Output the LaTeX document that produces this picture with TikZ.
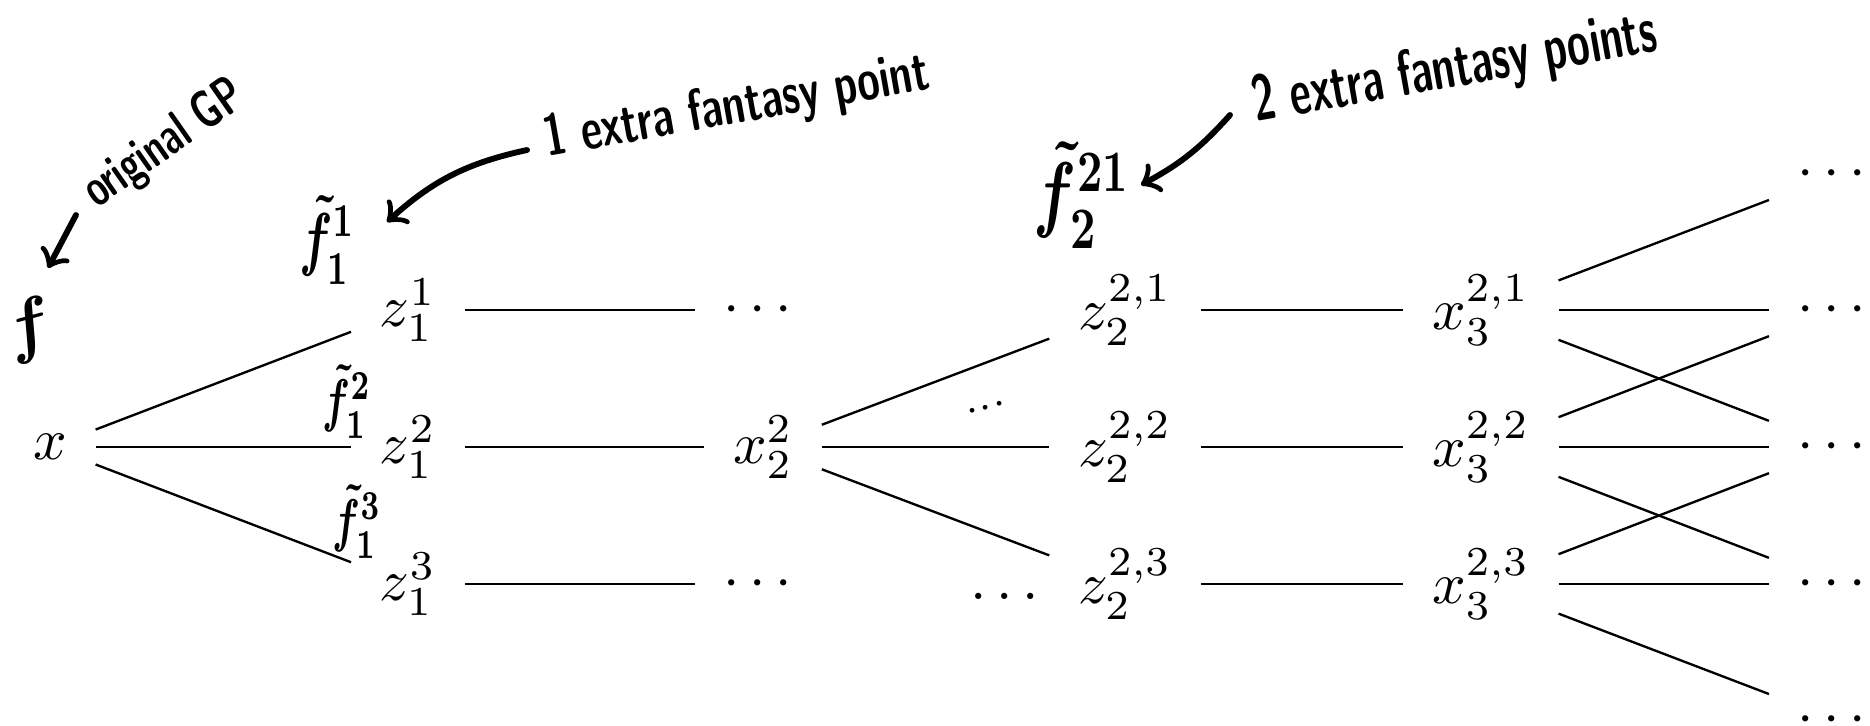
\documentclass[tikz,border=0pt]{standalone}
\usepackage{amsmath}
\usepackage{graphicx}
\begin{document}
\begin{tikzpicture}[x=0.17pt, y=-0.17pt, inner sep=4.7pt,
		hand/.style={font=\sffamily\bfseries, inner sep=0pt},
		note/.style={->, line width=1pt, line cap=round}]
	\useasboundingbox (0,0) rectangle (1870,725);
	\clip (0,0) rectangle (1870,725);
	% typeset tree
	\node (X) at (50,447) {$x$};
	\node (Z11) at (408,310) {$z_1^1$};
	\node (Z12) at (408,447) {$z_1^2$};
	\node (Z13) at (408,584) {$z_1^3$};
	\node (D11) at (763,310) {$\cdots$};
	\node (X22) at (763,447) {$x_2^2$};
	\node (D13) at (763,584) {$\cdots$};
	\node (Z21) at (1125,310) {$z_2^{2,1}$};
	\node (Z22) at (1125,447) {$z_2^{2,2}$};
	\node (Z23) at (1125,584) {$z_2^{2,3}$};
	\node (X31) at (1481,310) {$x_3^{2,1}$};
	\node (X32) at (1481,447) {$x_3^{2,2}$};
	\node (X33) at (1481,584) {$x_3^{2,3}$};
	\foreach \r/\y in {0/174, 1/310, 2/447, 3/584, 4/720}
		\node (R\r) at (1837,\y) {$\cdots$};
	\node[rotate=15] (up) at (990,407) {$\scriptstyle\cdots$};
	\node (low) at (1005,596) {$\ldots$};
	\foreach \a/\b in {X/Z11, X/Z12, X/Z13, Z11/D11, Z12/X22, Z13/D13,
			X22/Z21, X22/Z22, X22/Z23, Z21/X31, Z22/X32, Z23/X33,
			X31/R0, X31/R1, X31/R2, X32/R1, X32/R2, X32/R3, X33/R2, X33/R3, X33/R4}
		\draw (\a) -- (\b);
	% handwritten notes
	\node[hand, rotate=15] (f) at (30,330) {\large$\boldsymbol{f}$};
	\node[hand, rotate=35] (orig) at (165,145) {\scalebox{0.68}[1]{\fontsize{9}{10}\selectfont original GP}};
	\coordinate (gpA) at (76,215); \coordinate (gpB) at (48,268);
	\draw[note] (gpA) -- (gpB);
	\node[hand] (f11) at (327,240) {\scalebox{0.7}[1]{\large$\boldsymbol{\tilde f^{1}_{1}}$}};
	\node[hand] (f12) at (347,402) {\scalebox{0.7}[1]{$\boldsymbol{\tilde f^{2}_{1}}$}};
	\node[hand] (f13) at (357,522) {\scalebox{0.7}[1]{$\boldsymbol{\tilde f^{3}_{1}}$}};
	\node[hand, rotate=10] (one) at (737,108) {\scalebox{0.69}[1]{\fontsize{10}{11}\selectfont 1 extra fantasy point}};
	\coordinate (oneA) at (527,150); \coordinate (oneB) at (387,222);
	\draw[note] (oneA) to[bend right=15] (oneB);
	\node[hand] (f21) at (1082,195) {\scalebox{0.75}[1]{\Large$\boldsymbol{\tilde f^{21}_{2}}$}};
	\node[hand, rotate=10] (two) at (1455,70) {\scalebox{0.63}[1]{\fontsize{11}{12}\selectfont 2 extra fantasy points}};
	\coordinate (twoA) at (1230,115); \coordinate (twoB) at (1141,185);
	\draw[note] (twoA) to[bend left=10] (twoB);
\end{tikzpicture}
\end{document}
